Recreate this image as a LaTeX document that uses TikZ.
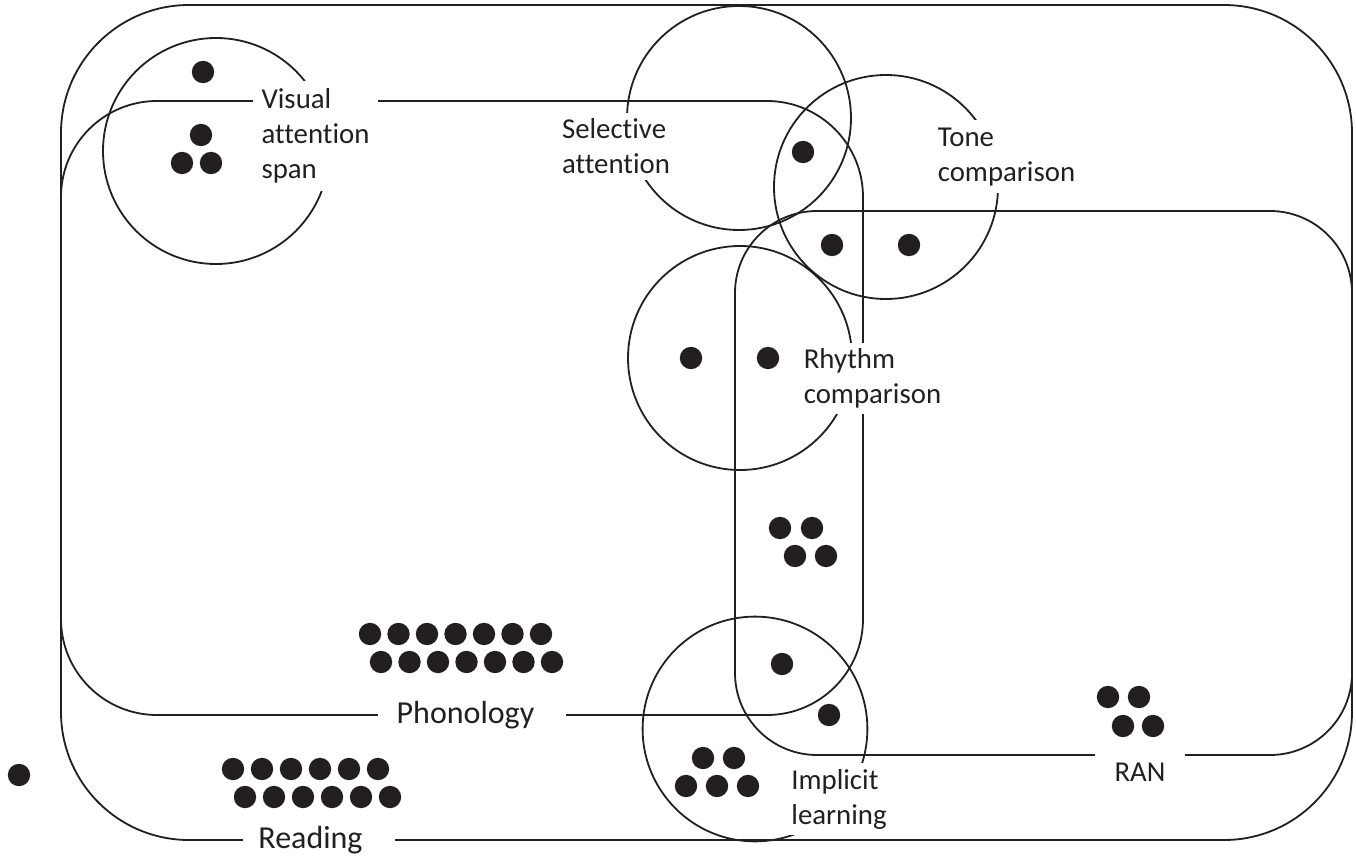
\documentclass[tikz,border=0pt]{standalone}
\usepackage{fontspec}
\setmainfont{Carlito}[Ligatures={NoCommon}]
\definecolor{ink}{HTML}{231F20}
\begin{document}
\begin{tikzpicture}[x=0.5pt,y=-0.5pt,line width=0.9pt,
  set/.style={draw=ink},
  dot/.style={fill=ink},
  lab/.style={fill=white,inner sep=0pt,align=left,text=ink,
    font=\fontsize{14.4pt}{17.5pt}\selectfont},
  biglab/.style={fill=white,inner sep=0pt,text=ink,
    font=\fontsize{16pt}{19pt}\selectfont}]
\useasboundingbox (0,0) rectangle (1356,856);
% sets (rounded rectangles)
\draw[set,rounded corners=64pt] (61,5) rectangle (1352,840);   % Reading
\draw[set,rounded corners=48pt] (61,101) rectangle (863,715);  % Phonology
\draw[set,rounded corners=41pt] (735,211) rectangle (1352,755); % RAN
% circles
\draw[set] (216,151) circle[radius=56.5pt];  % Visual attention span
\draw[set] (739,118) circle[radius=56pt];    % Selective attention
\draw[set] (886,187) circle[radius=56pt];    % Tone comparison
\draw[set] (740,358) circle[radius=56pt];    % Rhythm comparison
\draw[set] (755,729) circle[radius=56.2pt];  % Implicit learning
% dots
\foreach \p in {(203,72),(201,135),(182,163),(211,163),
  (803,152),(832,245),(909,245),(691,358),(768,358),
  (780,528),(812,528),(795,556),(826,556),
  (782,664),(829,715),
  (703,758),(734,758),(686,786),(717,786),(748,786),
  (1108,697),(1139,697),(1123,726),(1153,726),
  (19,775),
  (370,634),(398.5,634),(427,634),(455.5,634),(484,634),(512.5,634),(541,634),
  (381,662),(409.5,662),(438,662),(466.5,662),(495,662),(523.5,662),(552,662),
  (233,769),(262,769),(291,769),(320,769),(349,769),(378,769),
  (245,797),(274,797),(303,797),(332,797),(361,797),(390,797)}
  \fill[dot] \p circle[radius=5.6pt];
% labels
\node[lab,minimum width=62.5pt,minimum height=55pt] (vas) at (315.5,136) {Visual\\attention\\span};
\node[lab,minimum width=64pt,minimum height=33.5pt] (sel) at (616,146.5) {Selective\\attention};
\node[lab,minimum width=78.5pt,minimum height=36.5pt] (tone) at (1006.5,157) {Tone\\comparison};
\node[lab,minimum width=77.5pt,minimum height=35.5pt] (rhy) at (872.5,378.5) {Rhythm\\comparison};
\node[lab,minimum width=56pt,minimum height=36pt] (imp) at (839,799) {Implicit\\learning};
\node[lab,minimum width=45pt,minimum height=21pt] (ran) at (1140,772) {RAN};
\node[biglab,minimum width=94pt,minimum height=20pt] (pho) at (472,715) {Phonology\hspace*{6.5pt}};
\node[biglab,minimum width=76pt,minimum height=20pt] (rea) at (319,840) {Reading\hspace*{8.5pt}};
\end{tikzpicture}
\end{document}
